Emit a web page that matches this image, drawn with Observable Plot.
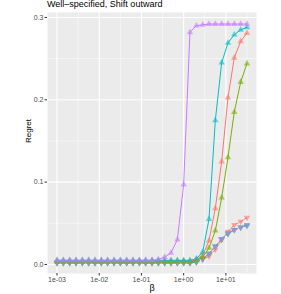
<!DOCTYPE html>
<html><head><meta charset="utf-8">
<script src="https://cdn.jsdelivr.net/npm/d3@7"></script>
<script src="https://cdn.jsdelivr.net/npm/@observablehq/plot@0.6"></script>
<style>
body{margin:0;background:#fff;font-family:"Liberation Sans",Arial,sans-serif}
#title{position:absolute;left:47px;top:0px;font-size:9px;line-height:9px;color:#000;white-space:nowrap}
#chart{position:absolute;left:0;top:12px}
</style></head><body>
<div id="title">Well–specified, Shift outward</div>
<div id="chart"></div>
<script>
// beta grid
const beta = [0.001, 0.00141, 0.002, 0.00282, 0.00398, 0.00562, 0.00794, 0.0112, 0.0158, 0.0224, 0.0316,
  0.0447, 0.0631, 0.0891, 0.126, 0.178, 0.251, 0.355, 0.501, 0.708, 1, 1.41, 2, 2.82, 3.98, 5.62, 7.94,
  11.2, 15.8, 22.4, 31.6];

// upper group (triangle markers, solid lines)
const redUp    = [0.004,0.004,0.004,0.004,0.004,0.004,0.004,0.004,0.004,0.004,0.004,0.004,0.004,0.004,0.004,0.004,0.004,0.004,0.004,0.004,0.004,0.004,0.006,0.011,0.029,0.068,0.125,0.2025,0.251,0.271,0.281];
const oliveUp  = [0.003,0.003,0.003,0.003,0.003,0.003,0.003,0.003,0.003,0.003,0.003,0.003,0.003,0.003,0.003,0.003,0.003,0.003,0.003,0.003,0.003,0.003,0.005,0.009,0.020,0.041,0.081,0.130,0.185,0.2215,0.244];
const tealUp   = [0.005,0.005,0.005,0.005,0.005,0.005,0.005,0.005,0.005,0.005,0.005,0.005,0.005,0.005,0.005,0.005,0.005,0.005,0.005,0.005,0.005,0.005,0.007,0.015,0.055,0.175,0.245,0.269,0.279,0.285,0.288];
const purpleUp = [0.005,0.005,0.005,0.005,0.005,0.005,0.005,0.005,0.005,0.005,0.005,0.005,0.005,0.005,0.005,0.005,0.006,0.009,0.014,0.030,0.097,0.282,0.290,0.291,0.292,0.292,0.292,0.292,0.292,0.292,0.292];
// lower group (down-triangle markers, dashed lines)
const redLow    = [0.002,0.002,0.002,0.002,0.002,0.002,0.002,0.002,0.002,0.002,0.002,0.002,0.002,0.002,0.002,0.002,0.002,0.002,0.002,0.002,0.002,0.002,0.003,0.006,0.010,0.018,0.030,0.040,0.048,0.052,0.057];
const oliveLow  = [0.002,0.002,0.002,0.002,0.002,0.002,0.002,0.002,0.002,0.002,0.002,0.002,0.002,0.002,0.002,0.002,0.002,0.002,0.002,0.002,0.002,0.002,0.003,0.007,0.013,0.022,0.031,0.038,0.042,0.045,0.048];
const tealLow   = [0.002,0.002,0.002,0.002,0.002,0.002,0.002,0.002,0.002,0.002,0.002,0.002,0.002,0.002,0.002,0.002,0.002,0.002,0.002,0.002,0.002,0.002,0.003,0.007,0.013,0.022,0.031,0.037,0.042,0.045,0.047];
const purpleLow = [0.003,0.003,0.003,0.003,0.003,0.003,0.003,0.003,0.003,0.003,0.003,0.003,0.003,0.003,0.003,0.003,0.003,0.003,0.003,0.003,0.003,0.003,0.004,0.007,0.013,0.022,0.031,0.038,0.042,0.045,0.048];

const seriesNames = ["A1","B1","C1","D1","A2","B2","C2","D2"];
const seriesColors = ["#F8766D","#7CAE00","#00BFC4","#C77CFF","#F8766D","#7CAE00","#00BFC4","#C77CFF"];
const seriesValues = [redUp, oliveUp, tealUp, purpleUp, redLow, oliveLow, tealLow, purpleLow];

const xTicks = [0.001, 0.01, 0.1, 1, 10];
const xTickLabels = ["1e-03","1e-02","1e-01","1e+00","1e+01"];
const xMinor = [0.00316, 0.0316, 0.316, 3.16, 31.6];
const yTicks = [0, 0.1, 0.2, 0.3];
const yTickLabels = ["0.0","0.1","0.2","0.3"];
const yMinor = [0.05, 0.15, 0.25];

const rows = [];
seriesValues.forEach((vals, s) => vals.forEach((v, i) => rows.push({series: seriesNames[s], beta: beta[i], regret: v, low: s >= 4})));
const upRows = rows.filter(d => !d.low);
const lowRows = rows.filter(d => d.low);

const triDown = {
  draw(context, size) {
    const y = -Math.sqrt(size / (Math.sqrt(3) * 3));
    context.moveTo(0, -y * 2);
    context.lineTo(-Math.sqrt(3) * y, y);
    context.lineTo(Math.sqrt(3) * y, y);
    context.closePath();
  }
};

const xFmt = d => xTickLabels[xTicks.indexOf(d)];
const yFmt = d => yTickLabels[yTicks.indexOf(d)];

const chart = Plot.plot({
  width: 281,
  height: 282,
  marginLeft: 47,
  marginRight: 25,
  marginTop: 0,
  marginBottom: 21,
  style: {fontFamily: "Liberation Sans, Arial, sans-serif", background: "white"},
  x: {type: "log", domain: [Math.pow(10, -3.225), Math.pow(10, 1.725)]},
  y: {domain: [-0.011, 0.306]},
  color: {domain: seriesNames, range: seriesColors},
  marks: [
    Plot.frame({fill: "#EBEBEB", stroke: null}),
    Plot.ruleX(xMinor, {stroke: "white", strokeWidth: 0.5}),
    Plot.ruleY(yMinor, {stroke: "white", strokeWidth: 0.5}),
    Plot.ruleX(xTicks, {stroke: "white", strokeWidth: 1.1}),
    Plot.ruleY(yTicks, {stroke: "white", strokeWidth: 1.1}),
    Plot.line(lowRows, {x: "beta", y: "regret", z: "series", stroke: "series", strokeWidth: 1, strokeDasharray: "3,2"}),
    Plot.dot(lowRows, {x: "beta", y: "regret", fill: "series", symbol: triDown, r: 2.4, fillOpacity: 0.6}),
    Plot.line(upRows, {x: "beta", y: "regret", z: "series", stroke: "series", strokeWidth: 1}),
    Plot.dot(upRows, {x: "beta", y: "regret", fill: "series", symbol: "triangle", r: 2.4, fillOpacity: 0.6}),
    Plot.axisX(xTicks, {tickFormat: xFmt, tickSize: 2.5, tickPadding: 1.5, fontSize: 7, fill: "#4D4D4D", stroke: "#333", label: null}),
    Plot.axisY(yTicks, {tickFormat: yFmt, tickSize: 2.5, tickPadding: 1.5, fontSize: 7, fill: "#4D4D4D", stroke: "#333", label: null}),
    Plot.text(["Regret"], {frameAnchor: "left", dx: -19, rotate: -90, fontSize: 8, fill: "black"}),
    Plot.text(["β"], {frameAnchor: "bottom", dy: 17, fontSize: 9, fill: "black"})
  ]
});
document.getElementById("chart").appendChild(chart);
</script></body></html>
